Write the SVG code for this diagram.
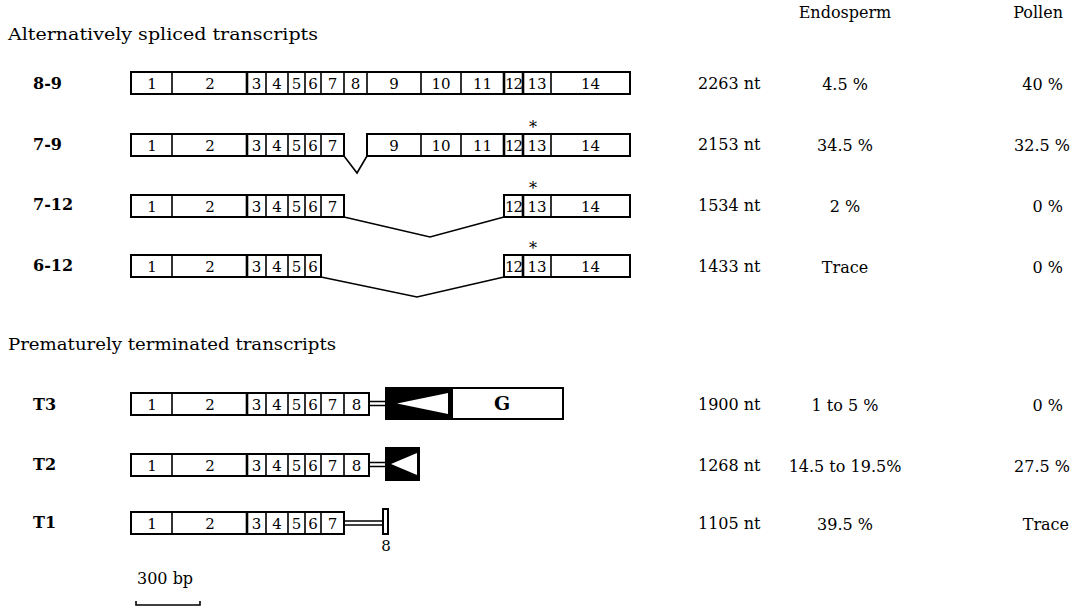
<svg xmlns="http://www.w3.org/2000/svg" width="1075" height="611" viewBox="0 0 1075 611">
<style>
.bg{fill:#fff}
.box{fill:#fff;stroke:#000;stroke-width:2}
.dv{stroke:#000;stroke-width:1.6}
.dk{stroke:#000;stroke-width:2.6}
.ln{fill:none;stroke:#000;stroke-width:1.6}
.blk{fill:#000;stroke:#000;stroke-width:2}
.tri{fill:#fff;stroke:none}
text{font-family:"DejaVu Serif","Liberation Serif",serif;fill:#000}
.h{font-size:17px}
.lab{font-size:16px;font-weight:bold}
.d{font-size:16px}
.c{text-anchor:middle}
.r{text-anchor:end}
.e{font-size:15px;text-anchor:middle}
.ast{font-size:16px;text-anchor:middle}
</style>
<rect class="bg" x="0" y="0" width="1075" height="611"/>

<g id="headers">
<text class="h" x="8" y="40" textLength="310" lengthAdjust="spacingAndGlyphs">Alternatively spliced transcripts</text>
<text class="d" x="845" y="18" text-anchor="middle">Endosperm</text>
<text class="d" x="1063" y="18" text-anchor="end">Pollen</text>
<text class="h" x="8" y="350" textLength="328" lengthAdjust="spacingAndGlyphs">Prematurely terminated transcripts</text>
</g>

<g id="row-8-9">
<text class="lab" x="33" y="89">8-9</text>
<rect class="box" x="131" y="72" width="499" height="22"/>
<path class="dv" d="M172,72V94M266,72V94M288,72V94M305,72V94M321,72V94M344,72V94M367,72V94M421,72V94M461,72V94M551,72V94"/>
<path class="dk" d="M247,72V94M504,72V94M523,72V94"/>
<text class="e" y="89"><tspan x="152">1</tspan><tspan x="210">2</tspan><tspan x="256.5">3</tspan><tspan x="277">4</tspan><tspan x="296.5">5</tspan><tspan x="313">6</tspan><tspan x="332.5">7</tspan><tspan x="355.5">8</tspan><tspan x="394">9</tspan><tspan x="441">10</tspan><tspan x="482.5">11</tspan><tspan x="513.5" letter-spacing="-1">12</tspan><tspan x="537">13</tspan><tspan x="590.5">14</tspan></text>
<text class="d" x="698" y="89">2263 nt</text>
<text class="d c" x="845" y="90">4.5 %</text>
<text class="d r" x="1063" y="90">40 %</text>
</g>

<g id="row-7-9">
<text class="lab" x="33" y="150">7-9</text>
<rect class="box" x="131" y="134" width="213" height="22"/>
<rect class="box" x="367" y="134" width="263" height="22"/>
<path class="dv" d="M172,134V156M266,134V156M288,134V156M305,134V156M321,134V156M421,134V156M461,134V156M551,134V156"/>
<path class="dk" d="M247,134V156M504,134V156M523,134V156"/>
<text class="e" y="151"><tspan x="152">1</tspan><tspan x="210">2</tspan><tspan x="256.5">3</tspan><tspan x="277">4</tspan><tspan x="296.5">5</tspan><tspan x="313">6</tspan><tspan x="332.5">7</tspan><tspan x="394">9</tspan><tspan x="441">10</tspan><tspan x="482.5">11</tspan><tspan x="513.5" letter-spacing="-1">12</tspan><tspan x="537">13</tspan><tspan x="590.5">14</tspan></text>
<text class="ast" x="533" y="133">*</text>
<text class="d" x="698" y="150">2153 nt</text>
<text class="d c" x="845" y="151">34.5 %</text>
<text class="d r" x="1070" y="151">32.5 %</text>
</g>

<g id="row-7-12">
<text class="lab" x="33" y="210">7-12</text>
<rect class="box" x="131" y="195" width="213" height="22"/>
<rect class="box" x="504" y="195" width="126" height="22"/>
<path class="dv" d="M172,195V217M266,195V217M288,195V217M305,195V217M321,195V217M551,195V217"/>
<path class="dk" d="M247,195V217M523,195V217"/>
<text class="e" y="212"><tspan x="152">1</tspan><tspan x="210">2</tspan><tspan x="256.5">3</tspan><tspan x="277">4</tspan><tspan x="296.5">5</tspan><tspan x="313">6</tspan><tspan x="332.5">7</tspan><tspan x="513.5" letter-spacing="-1">12</tspan><tspan x="537">13</tspan><tspan x="590.5">14</tspan></text>
<text class="ast" x="533" y="194">*</text>
<text class="d" x="698" y="211">1534 nt</text>
<text class="d c" x="845" y="212">2 %</text>
<text class="d r" x="1063" y="212">0 %</text>
</g>

<g id="row-6-12">
<text class="lab" x="33" y="271">6-12</text>
<rect class="box" x="131" y="255" width="190" height="22"/>
<rect class="box" x="504" y="255" width="126" height="22"/>
<path class="dv" d="M172,255V277M266,255V277M288,255V277M305,255V277M551,255V277"/>
<path class="dk" d="M247,255V277M523,255V277"/>
<text class="e" y="272"><tspan x="152">1</tspan><tspan x="210">2</tspan><tspan x="256.5">3</tspan><tspan x="277">4</tspan><tspan x="296.5">5</tspan><tspan x="313">6</tspan><tspan x="513.5" letter-spacing="-1">12</tspan><tspan x="537">13</tspan><tspan x="590.5">14</tspan></text>
<text class="ast" x="533" y="254">*</text>
<text class="d" x="698" y="272">1433 nt</text>
<text class="d c" x="845" y="273">Trace</text>
<text class="d r" x="1063" y="273">0 %</text>
</g>

<g id="row-T3">
<text class="lab" x="33" y="410">T3</text>
<rect class="box" x="131" y="393" width="238" height="22"/>
<path class="dv" d="M172,393V415M266,393V415M288,393V415M305,393V415M321,393V415M344,393V415"/>
<path class="dk" d="M247,393V415"/>
<text class="e" y="410"><tspan x="152">1</tspan><tspan x="210">2</tspan><tspan x="256.5">3</tspan><tspan x="277">4</tspan><tspan x="296.5">5</tspan><tspan x="313">6</tspan><tspan x="332.5">7</tspan><tspan x="356.5">8</tspan></text>
<rect class="blk" x="386" y="388" width="66" height="31"/>
<polygon class="tri" points="397,403.5 448,393 448,414"/>
<rect class="box" x="452" y="388" width="111" height="31"/>
<text x="502" y="410" font-size="19" font-weight="bold" text-anchor="middle">G</text>
<text class="d" x="698" y="410">1900 nt</text>
<text class="d c" x="845" y="411">1 to 5 %</text>
<text class="d r" x="1063" y="411">0 %</text>
</g>

<g id="row-T2">
<text class="lab" x="33" y="470">T2</text>
<rect class="box" x="131" y="454" width="238" height="22"/>
<path class="dv" d="M172,454V476M266,454V476M288,454V476M305,454V476M321,454V476M344,454V476"/>
<path class="dk" d="M247,454V476"/>
<text class="e" y="471"><tspan x="152">1</tspan><tspan x="210">2</tspan><tspan x="256.5">3</tspan><tspan x="277">4</tspan><tspan x="296.5">5</tspan><tspan x="313">6</tspan><tspan x="332.5">7</tspan><tspan x="356.5">8</tspan></text>
<rect class="blk" x="386" y="448" width="33" height="32"/>
<polygon class="tri" points="391,464 417,453 417,475"/>
<text class="d" x="698" y="471">1268 nt</text>
<text class="d c" x="845" y="472">14.5 to 19.5%</text>
<text class="d r" x="1070" y="472">27.5 %</text>
</g>

<g id="row-T1">
<text class="lab" x="33" y="528">T1</text>
<rect class="box" x="131" y="512" width="213" height="22"/>
<path class="dv" d="M172,512V534M266,512V534M288,512V534M305,512V534M321,512V534"/>
<path class="dk" d="M247,512V534"/>
<text class="e" y="529"><tspan x="152">1</tspan><tspan x="210">2</tspan><tspan x="256.5">3</tspan><tspan x="277">4</tspan><tspan x="296.5">5</tspan><tspan x="313">6</tspan><tspan x="332.5">7</tspan></text>
<rect class="box" x="383" y="509" width="5" height="25"/>
<text class="e" x="386" y="551">8</text>
<text class="d" x="698" y="529">1105 nt</text>
<text class="d c" x="845" y="530">39.5 %</text>
<text class="d r" x="1069" y="530">Trace</text>
</g>

<g id="connectors">
<polyline class="ln" points="344,156 357,173 367,156"/>
<polyline class="ln" points="344,217 430,237 504,217"/>
<polyline class="ln" points="321,277 417,297 504,277"/>
<path class="ln" d="M369,401.5H386M369,405.5H386"/>
<path class="ln" d="M369,462.5H386M369,466.5H386"/>
<path class="ln" d="M344,521H383M344,525H383"/>
</g>

<g id="scale">
<text class="d" x="137" y="584">300 bp</text>
<path class="ln" d="M136,601V605H200V601"/>
</g>
</svg>
